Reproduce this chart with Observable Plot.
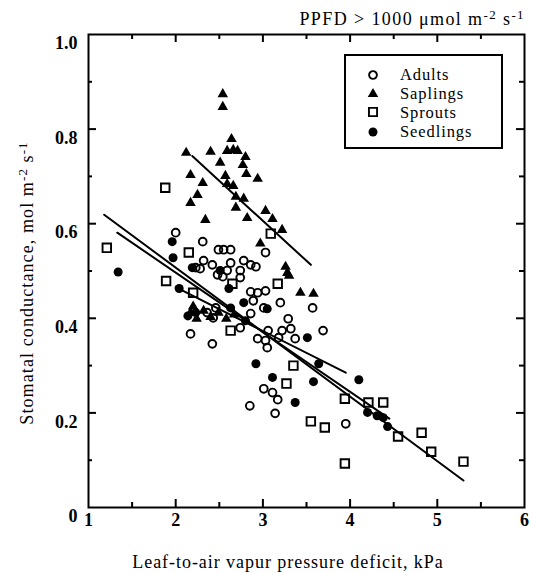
<!DOCTYPE html>
<html><head><meta charset="utf-8">
<script src="https://cdn.jsdelivr.net/npm/d3@7"></script>
<script src="https://cdn.jsdelivr.net/npm/@observablehq/plot@0.6"></script>
<style>
body{margin:0;background:#fff;}
#wrap{position:relative;width:535px;height:573px;font-family:"Liberation Serif","Times New Roman",serif;color:#000;overflow:hidden;}
#wrap svg{display:block;}
.lbl{position:absolute;white-space:nowrap;line-height:1;}
.sup{position:relative;top:-0.45em;font-size:0.72em;}
</style></head><body><div id="wrap"></div>
<script>
// ---------- data ----------
const xTickValues = [1, 2, 3, 4, 5, 6];
const xMinorTicks = [1.5, 2.5, 3.5, 4.5, 5.5];
const yTickValues = [0, 0.2, 0.4, 0.6, 0.8, 1.0];
const yMinorTicks = [0.1, 0.3, 0.5, 0.7, 0.9];

const groups = ["Adults", "Saplings", "Sprouts", "Seedlings"];

const adults = [
  [2.00,0.581],[2.31,0.562],[2.49,0.545],[2.55,0.545],[2.63,0.545],[2.32,0.522],[2.42,0.513],
  [2.63,0.517],[2.78,0.522],[2.86,0.513],[2.92,0.509],[2.48,0.492],[2.54,0.488],[2.59,0.501],
  [2.74,0.501],[2.74,0.486],[3.03,0.539],[2.23,0.507],[2.28,0.505],[2.86,0.456],[2.94,0.454],
  [3.03,0.458],[2.89,0.437],[3.20,0.433],[3.57,0.422],[3.29,0.399],[3.32,0.378],[3.22,0.374],
  [3.06,0.374],[3.18,0.359],[2.94,0.357],[3.03,0.353],[3.05,0.338],[3.37,0.357],[3.69,0.374],
  [2.17,0.367],[2.42,0.346],[2.74,0.380],[2.86,0.410],[2.46,0.422],[2.43,0.401],[2.36,0.412],
  [3.01,0.422],[3.01,0.251],[3.11,0.243],[3.17,0.228],[3.14,0.199],[2.85,0.215],[3.95,0.177]
];
const saplings = [
  [2.54,0.874],[2.54,0.847],[2.12,0.750],[2.40,0.752],[2.64,0.779],[2.59,0.754],[2.66,0.756],
  [2.71,0.754],[2.80,0.741],[2.51,0.729],[2.77,0.724],[2.81,0.705],[2.94,0.695],[2.17,0.703],
  [2.31,0.686],[2.57,0.701],[2.59,0.684],[2.66,0.680],[2.25,0.661],[2.17,0.644],[2.69,0.657],
  [2.78,0.653],[2.69,0.634],[2.34,0.608],[2.82,0.612],[3.03,0.627],[3.11,0.610],[3.22,0.587],
  [2.97,0.558],[3.26,0.509],[3.28,0.496],[3.30,0.490],[3.43,0.454],[3.58,0.452],
  [2.17,0.412],[2.24,0.399],[2.32,0.416],[2.40,0.403],[2.49,0.412],[2.58,0.399],[2.67,0.408],[2.20,0.425]
];
const sprouts = [
  [1.88,0.676],[1.21,0.549],[2.15,0.539],[1.89,0.479],[2.20,0.454],[3.09,0.579],[3.17,0.473],
  [2.65,0.473],[2.63,0.374],[3.35,0.300],[3.27,0.262],[3.55,0.182],[3.71,0.169],[3.94,0.230],
  [4.21,0.222],[4.38,0.222],[4.55,0.150],[4.82,0.158],[4.93,0.118],[5.30,0.097],[3.94,0.093]
];
const seedlings = [
  [1.34,0.498],[1.96,0.562],[1.97,0.528],[2.04,0.463],[2.19,0.507],[2.61,0.463],[2.51,0.501],
  [2.92,0.304],[3.51,0.359],[3.64,0.304],[3.11,0.275],[3.58,0.266],[3.37,0.222],[4.10,0.270],
  [4.20,0.201],[4.31,0.194],[4.38,0.190],[4.43,0.171],[2.78,0.433],[2.80,0.395],[2.14,0.405],
  [2.23,0.412],[3.05,0.420],[2.63,0.422]
];
// regression lines (end points)
const fitGroups = ["Saplings", "Sprouts", "Seedlings", "Adults"];
const fitX = [[2.19, 3.55], [1.18, 5.30], [1.33, 4.45], [2.00, 3.95]];
const fitY = [[0.743, 0.513], [0.619, 0.057], [0.581, 0.188], [0.466, 0.285]];

// ---------- build ----------
const W = 535, H = 573, mL = 88, mR = 11, mT = 34, mB = 66;
const fw = W - mL - mR, fh = H - mT - mB;
const fitRows = fitGroups.flatMap((g, i) => fitX[i].map((x, j) => ({group: g, x, y: fitY[i][j]})));
const px = d => d[0], py = d => d[1];
const innerMajorX = xTickValues.slice(1, -1), innerMajorY = yTickValues.slice(1, -1);

const chart = Plot.plot({
  width: W, height: H, marginLeft: mL, marginRight: mR, marginTop: mT, marginBottom: mB,
  x: {domain: [1, 6]}, y: {domain: [0, 1]},
  style: {fontFamily: "'Liberation Serif', serif", background: "white", color: "black", overflow: "visible"},
  marks: [
    Plot.axisX(xTickValues, {tickSize: 0, tickPadding: 6, fontSize: 18, fontWeight: "bold", label: null, tickFormat: d => String(d)}),
    Plot.axisY(yTickValues, {tickSize: 0, tickPadding: 11, dy: 9, fontSize: 18, fontWeight: "bold", label: null,
      tickFormat: d => d === 0 ? "0" : d.toFixed(1)}),
    // inward ticks on all four sides
    Plot.tickX(innerMajorX, {x: d => d, insetTop: fh - 8, strokeWidth: 2}),
    Plot.tickX(xMinorTicks, {x: d => d, insetTop: fh - 5, strokeWidth: 2}),
    Plot.tickX(innerMajorX, {x: d => d, insetBottom: fh - 8, strokeWidth: 2}),
    Plot.tickX(xMinorTicks, {x: d => d, insetBottom: fh - 5, strokeWidth: 2}),
    Plot.tickY(innerMajorY, {y: d => d, insetRight: fw - 8, strokeWidth: 2}),
    Plot.tickY(yMinorTicks, {y: d => d, insetRight: fw - 4, strokeWidth: 2}),
    Plot.tickY(innerMajorY, {y: d => d, insetLeft: fw - 8, strokeWidth: 2}),
    Plot.tickY(yMinorTicks, {y: d => d, insetLeft: fw - 5, strokeWidth: 2}),
    Plot.frame({strokeWidth: 2, stroke: "black"}),
    Plot.line(fitRows, {x: "x", y: "y", z: "group", stroke: "black", strokeWidth: 2}),
    Plot.dot(adults, {x: px, y: py, r: 3.9, stroke: "black", strokeWidth: 1.9, fill: "none"}),
    Plot.dot(sprouts, {x: px, y: py, symbol: "square", r: 4.8, stroke: "black", strokeWidth: 1.9, fill: "none"}),
    Plot.dot(seedlings, {x: px, y: py, r: 4.5, fill: "black", stroke: "none"}),
    Plot.dot(saplings, {x: px, y: py, symbol: "triangle", r: 3.9, fill: "black", stroke: "none"})
  ]
});

const wrap = document.getElementById("wrap");
wrap.appendChild(chart);

// title
const title = document.createElement("div");
title.className = "lbl";
title.style.cssText = "right:10px;top:10px;font-size:18px;letter-spacing:1.4px;";
title.innerHTML = 'PPFD &gt; 1000 \u03bcmol m<span class="sup">-2</span> s<span class="sup">-1</span>';
wrap.appendChild(title);

// x label
const xl = document.createElement("div");
xl.className = "lbl";
xl.style.cssText = "left:288px;top:553px;font-size:18px;letter-spacing:0.95px;transform:translateX(-50%);";
xl.textContent = "Leaf-to-air vapur pressure deficit, kPa";
wrap.appendChild(xl);

// y label
const yl = document.createElement("div");
yl.className = "lbl";
yl.style.cssText = "left:27px;top:283px;font-size:18px;letter-spacing:1.1px;transform:translate(-50%,-50%) rotate(-90deg);";
yl.innerHTML = 'Stomatal conductance, mol m<span class="sup">-2</span> s<span class="sup">-1</span>';
wrap.appendChild(yl);

// legend
const legendMarkers = [
  {sym: d3.symbolCircle, size: Math.PI * 3.9 * 3.9, fill: "none", stroke: "black"},
  {sym: d3.symbolTriangle, size: Math.PI * 3.9 * 3.9, fill: "black", stroke: "none"},
  {sym: d3.symbolSquare, size: Math.PI * 4.6 * 4.6, fill: "none", stroke: "black"},
  {sym: d3.symbolCircle, size: Math.PI * 4.5 * 4.5, fill: "black", stroke: "none"}
];
const lg = d3.create("svg").attr("width", W).attr("height", H)
  .style("position", "absolute").style("left", 0).style("top", 0).style("pointer-events", "none");
lg.append("rect").attr("x", 345).attr("y", 55).attr("width", 157).attr("height", 93)
  .attr("fill", "white").attr("stroke", "black").attr("stroke-width", 2);
const rowsMarkerY = [75, 94, 112, 132], rowsTextY = [80, 99, 118, 137];
groups.forEach((g, i) => {
  const m = legendMarkers[i];
  lg.append("path").attr("d", d3.symbol(m.sym, m.size)())
    .attr("transform", `translate(373,${rowsMarkerY[i]})`)
    .attr("fill", m.fill).attr("stroke", m.stroke).attr("stroke-width", 1.9);
  lg.append("text").attr("x", 400).attr("y", rowsTextY[i]).text(g)
    .attr("font-family", "'Liberation Serif', serif").attr("font-size", 16.5)
    .attr("letter-spacing", 0.9);
});
wrap.appendChild(lg.node());
</script></body></html>
